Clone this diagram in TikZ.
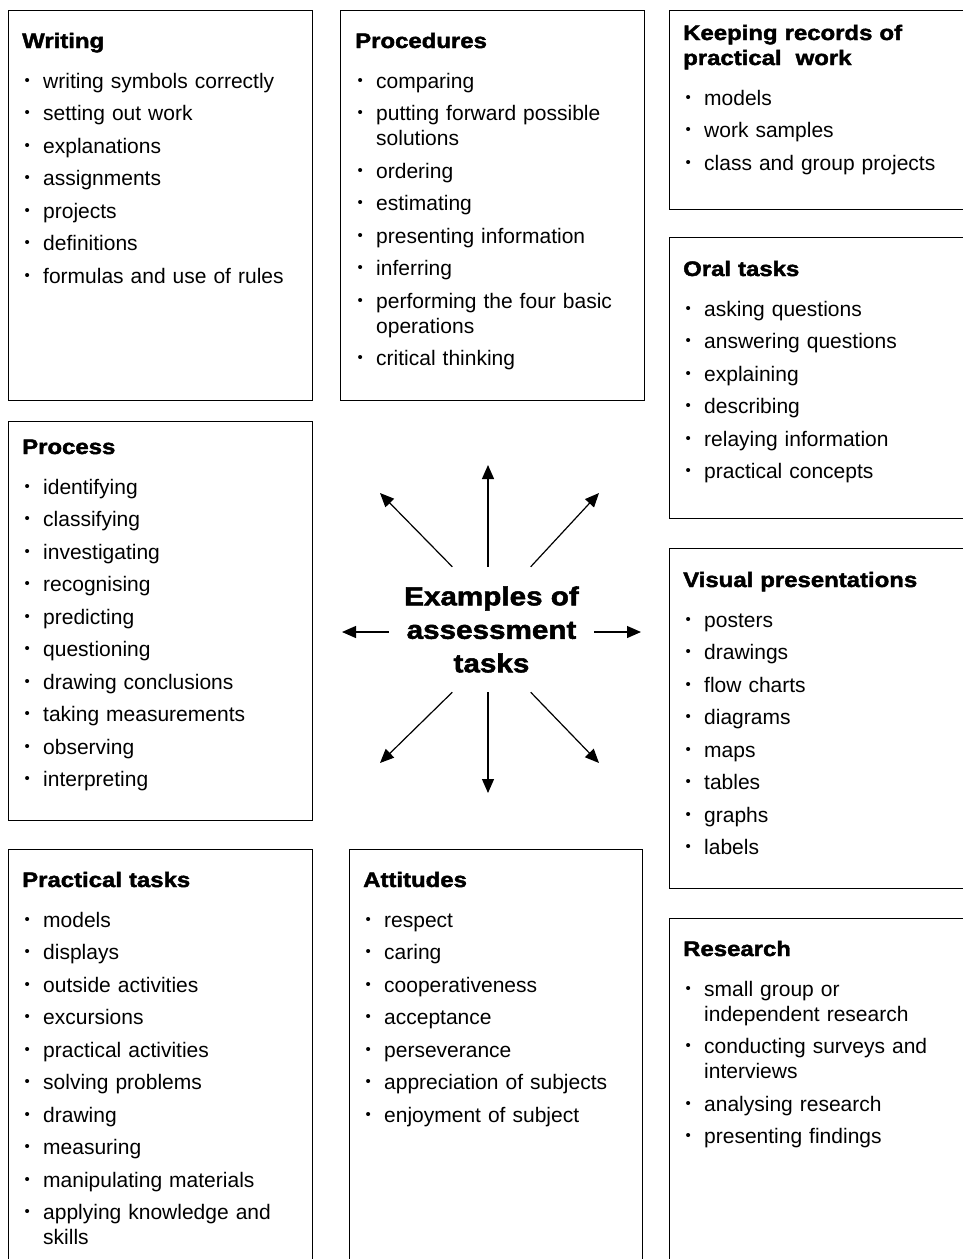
\documentclass[tikz,border=0pt]{standalone}
\usepackage{fontspec}
\setmainfont{Liberation Sans}
\newfontfamily\headfont{Liberation Sans Bold}[FakeBold=2,FakeStretch=1.14]
\usetikzlibrary{arrows.meta}

\newcommand\hd[1]{{\headfont #1}}
\newcommand\itm[1]{\makebox[21pt][l]{\hspace*{2.5pt}\raisebox{2.6pt}{\fontsize{15}{15}\selectfont\textbullet}}#1}
\newcommand\ind{\hspace*{21pt}}

\begin{document}
\begin{tikzpicture}[
  x=1pt, y=-1pt,
  frame/.style={draw=black, line width=1.3pt, anchor=north west, inner sep=0pt},
  list/.style={anchor=base west, text width=300pt, align=left, inner sep=0pt,
    font=\fontsize{21}{25}\selectfont},
  centre/.style={align=center, inner sep=0pt, minimum width=205, minimum height=125,
    font=\headfont\fontsize{26}{33.5}\selectfont},
  arw/.style={-{Triangle[length=14pt,width=12pt]}, line width=1.2pt}
  ]

\useasboundingbox (0,0) rectangle (962,1259);

% frames
\node [frame, minimum width=304, minimum height=390] (writingbox) at (8,10) {};
\node [frame, minimum width=304, minimum height=390] (procbox) at (340,10) {};
\node [frame, minimum width=310, minimum height=199] (recordsbox) at (669,10) {};
\node [frame, minimum width=310, minimum height=281] (oralbox) at (669,237) {};
\node [frame, minimum width=304, minimum height=399] (processbox) at (8,421) {};
\node [frame, minimum width=310, minimum height=340] (visualbox) at (669,548) {};
\node [frame, minimum width=304, minimum height=430] (practicalbox) at (8,849) {};
\node [frame, minimum width=293, minimum height=430] (attitudesbox) at (349,849) {};
\node [frame, minimum width=310, minimum height=360] (researchbox) at (669,918) {};

% lists
\node [list] (writing) at (22,48) {\hd{Writing}\\[15pt]
  \itm{writing symbols correctly}\\[7.5pt]
  \itm{setting out work}\\[7.5pt]
  \itm{explanations}\\[7.5pt]
  \itm{assignments}\\[7.5pt]
  \itm{projects}\\[7.5pt]
  \itm{definitions}\\[7.5pt]
  \itm{formulas and use of rules}};

\node [list] (procedures) at (355,48) {\hd{Procedures}\\[15pt]
  \itm{comparing}\\[7.5pt]
  \itm{putting forward possible}\\
  \ind solutions\\[7.5pt]
  \itm{ordering}\\[7.5pt]
  \itm{estimating}\\[7.5pt]
  \itm{presenting information}\\[7.5pt]
  \itm{inferring}\\[7.5pt]
  \itm{performing the four basic}\\
  \ind operations\\[7.5pt]
  \itm{critical thinking}};

\node [list] (records) at (683,40) {\hd{Keeping records of}\\
  \hd{practical\ \ work}\\[15pt]
  \itm{models}\\[7.5pt]
  \itm{work samples}\\[7.5pt]
  \itm{class and group projects}};

\node [list] (oral) at (683,276) {\hd{Oral tasks}\\[15pt]
  \itm{asking questions}\\[7.5pt]
  \itm{answering questions}\\[7.5pt]
  \itm{explaining}\\[7.5pt]
  \itm{describing}\\[7.5pt]
  \itm{relaying information}\\[7.5pt]
  \itm{practical concepts}};

\node [list] (process) at (22,454) {\hd{Process}\\[15pt]
  \itm{identifying}\\[7.5pt]
  \itm{classifying}\\[7.5pt]
  \itm{investigating}\\[7.5pt]
  \itm{recognising}\\[7.5pt]
  \itm{predicting}\\[7.5pt]
  \itm{questioning}\\[7.5pt]
  \itm{drawing conclusions}\\[7.5pt]
  \itm{taking measurements}\\[7.5pt]
  \itm{observing}\\[7.5pt]
  \itm{interpreting}};

\node [list] (visual) at (683,587) {\hd{Visual presentations}\\[15pt]
  \itm{posters}\\[7.5pt]
  \itm{drawings}\\[7.5pt]
  \itm{flow charts}\\[7.5pt]
  \itm{diagrams}\\[7.5pt]
  \itm{maps}\\[7.5pt]
  \itm{tables}\\[7.5pt]
  \itm{graphs}\\[7.5pt]
  \itm{labels}};

\node [list] (practical) at (22,887) {\hd{Practical tasks}\\[15pt]
  \itm{models}\\[7.5pt]
  \itm{displays}\\[7.5pt]
  \itm{outside activities}\\[7.5pt]
  \itm{excursions}\\[7.5pt]
  \itm{practical activities}\\[7.5pt]
  \itm{solving problems}\\[7.5pt]
  \itm{drawing}\\[7.5pt]
  \itm{measuring}\\[7.5pt]
  \itm{manipulating materials}\\[7.5pt]
  \itm{applying knowledge and}\\
  \ind skills};

\node [list] (attitudes) at (363,887) {\hd{Attitudes}\\[15pt]
  \itm{respect}\\[7.5pt]
  \itm{caring}\\[7.5pt]
  \itm{cooperativeness}\\[7.5pt]
  \itm{acceptance}\\[7.5pt]
  \itm{perseverance}\\[7.5pt]
  \itm{appreciation of subjects}\\[7.5pt]
  \itm{enjoyment of subject}};

\node [list] (research) at (683,956) {\hd{Research}\\[15pt]
  \itm{small group or}\\
  \ind independent research\\[7.5pt]
  \itm{conducting surveys and}\\
  \ind interviews\\[7.5pt]
  \itm{analysing research}\\[7.5pt]
  \itm{presenting findings}};

% centre and arrows
\node [centre] (ex) at (491.5,629.5) {Examples of\\assessment\\tasks};

\coordinate (tipN) at (488,465);
\coordinate (tipNE) at (599,493);
\coordinate (tipE) at (641,632);
\coordinate (tipSE) at (599,763);
\coordinate (tipS) at (488,793);
\coordinate (tipSW) at (380,763);
\coordinate (tipW) at (342,632);
\coordinate (tipNW) at (380,493);

\draw [arw] (ex.north -| tipN) -- (tipN);
\draw [arw] (ex.58) -- (tipNE);
\draw [arw] (ex.east |- tipE) -- (tipE);
\draw [arw] (ex.302) -- (tipSE);
\draw [arw] (ex.south -| tipS) -- (tipS);
\draw [arw] (ex.238) -- (tipSW);
\draw [arw] (ex.west |- tipW) -- (tipW);
\draw [arw] (ex.122) -- (tipNW);

\end{tikzpicture}
\end{document}
